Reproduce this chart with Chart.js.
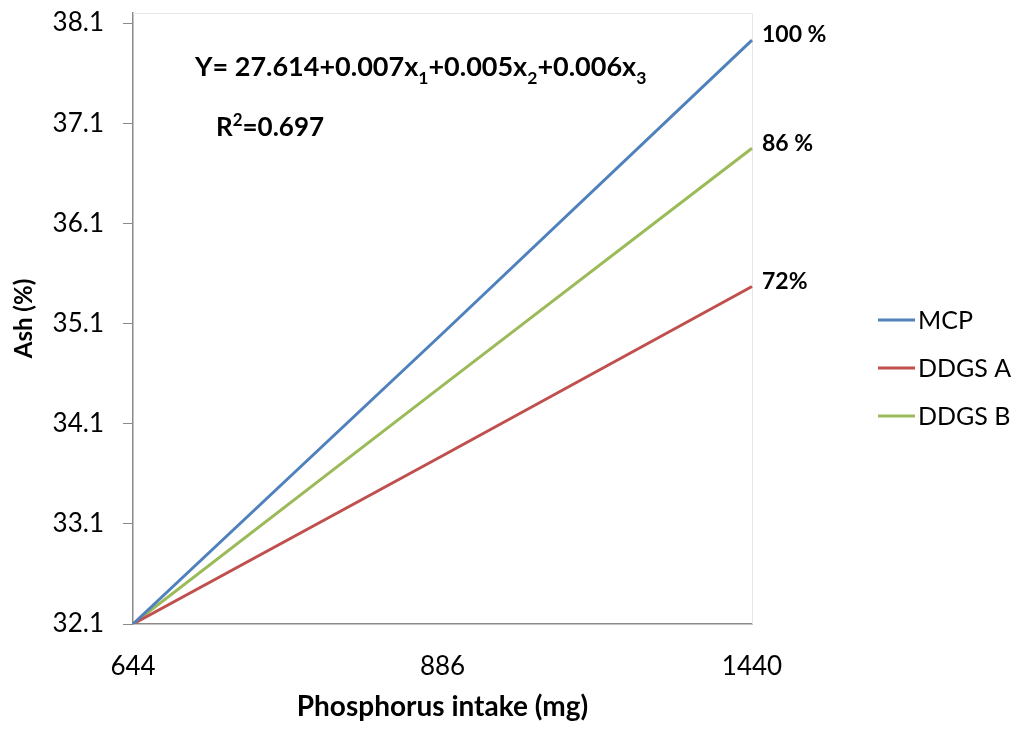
<!DOCTYPE html>
<html>
<head>
<meta charset="utf-8">
<script src="https://cdn.jsdelivr.net/npm/chart.js@4"></script>
<style>
  html, body { margin: 0; padding: 0; background: #fff; }
  #wrap { width: 1025px; height: 730px; }
</style>
</head>
<body>
<div id="wrap"><canvas id="ashChart" width="1025" height="730"></canvas></div>
<script>
// categories (phosphorus intake, mg)
const intake = ['644', '886', '1440'];
// predicted ash (%) per source
const mcp   = [32.1, 35.0, 37.93];
const ddgsA = [32.1, 33.78, 35.47];
const ddgsB = [32.1, 34.48, 36.85];
// y tick labels
const yTicks = [32.1, 33.1, 34.1, 35.1, 36.1, 37.1, 38.1];
// relative efficiency labels at the end of each line
const endLabels = ['100 %', '72%', '86 %'];

const FONT = 'Lato, "Open Sans", sans-serif';

//draws a string with sub/superscript parts: [text, 'n'|'sub'|'sup']
function richText(ctx, parts, x, y, size) {
  parts.forEach(function(p) {
    var s = p[1] === 'n' ? size : size * 0.65;
    var dy = p[1] === 'sub' ? size * 0.28 : (p[1] === 'sup' ? -size * 0.38 : 0);
    ctx.font = 'bold ' + s + 'px ' + FONT;
    ctx.fillText(p[0], x, y + dy);
    x += ctx.measureText(p[0]).width;
  });
}

//plot frame, annotations and legend
const extras = {
  id: 'extras',
  beforeDatasetsDraw(chart) {
    const a = chart.chartArea, ctx = chart.ctx;
    ctx.save();
    ctx.strokeStyle = '#e6e6e6';
    ctx.lineWidth = 1;
    ctx.beginPath();
    ctx.moveTo(a.left, a.top + 0.5); ctx.lineTo(a.right + 0.5, a.top + 0.5);
    ctx.lineTo(a.right + 0.5, a.bottom);
    ctx.stroke();
    ctx.restore();
  },
  afterDatasetsDraw(chart) {
    const ctx = chart.ctx;
    ctx.save();
    ctx.fillStyle = '#000';
    ctx.textBaseline = 'alphabetic';
    ctx.textAlign = 'left';
    richText(ctx, [['Y= 27.614+0.007x', 'n'], ['1', 'sub'], ['+0.005x', 'n'], ['2', 'sub'], ['+0.006x', 'n'], ['3', 'sub']], 195, 76, 27);
    richText(ctx, [['R', 'n'], ['2', 'sup'], ['=0.697', 'n']], 216, 136, 26);

    // end-of-line labels, anchored to the last point of each series
    ctx.font = 'bold 23px ' + FONT;
    ctx.textBaseline = 'middle';
    chart.data.datasets.forEach(function(ds, i) {
      const pts = chart.getDatasetMeta(i).data;
      const last = pts[pts.length - 1];
      ctx.fillText(endLabels[i], last.x + 10, last.y - 5);
    });

    // legend
    ctx.font = '25px ' + FONT;
    chart.data.datasets.forEach(function(ds, k) {
      const y = 320 + k * 48;
      ctx.strokeStyle = ds.borderColor;
      ctx.lineWidth = 3;
      ctx.beginPath(); ctx.moveTo(878, y); ctx.lineTo(915, y); ctx.stroke();
      ctx.fillStyle = '#000';
      ctx.fillText(ds.label, 918, y + 1);
    });
    ctx.restore();
  }
};

new Chart('ashChart', {
  type: 'line',
  data: {
    labels: intake,
    datasets: [
      {label: 'MCP', data: mcp, borderColor: '#4F81BD'},
      {label: 'DDGS A', data: ddgsA, borderColor: '#C0504D'},
      {label: 'DDGS B', data: ddgsB, borderColor: '#9BBB59'}
    ]
  },
  options: {
    responsive: false,
    animation: false,
    layout: {padding: {top: 13, right: 273, left: 0, bottom: 0}},
    elements: {
      line: {borderWidth: 3, tension: 0},
      point: {radius: 0}
    },
    plugins: {legend: {display: false}, tooltip: {enabled: false}},
    scales: {
      x: {
        offset: false,
        grid: {display: true, drawOnChartArea: false, drawTicks: false, color: '#8a8a8a'},
        border: {color: '#8a8a8a', width: 1.5},
        ticks: {color: '#000', font: {family: FONT, size: 26}, padding: 27, maxRotation: 0},
        title: {display: true, text: 'Phosphorus intake (mg)', color: '#000',
                font: {family: FONT, size: 28, weight: 'bold'}, padding: {top: 0, bottom: 6}},
        afterFit: function(s) { s.height = 106; s.paddingLeft = 0; s.paddingRight = 0; }
      },
      y: {
        min: 32.1,
        max: 38.2,
        afterBuildTicks: function(s) { s.ticks = yTicks.map(function(v) { return {value: v}; }); },
        grid: {display: true, drawOnChartArea: false, tickLength: 10, color: '#8a8a8a'},
        border: {color: '#8a8a8a', width: 1.5},
        ticks: {color: '#000', font: {family: FONT, size: 26}, padding: 19,
                callback: function(v) { return v.toFixed(1); }},
        title: {display: true, text: 'Ash (%)', color: '#000',
                font: {family: FONT, size: 24, weight: 'bold'}, padding: {top: 10, bottom: 12}},
        afterFit: function(s) { s.width = 133; s.paddingTop = 0; s.paddingBottom = 0; }
      }
    }
  },
  plugins: [extras]
});
</script>
</body>
</html>
